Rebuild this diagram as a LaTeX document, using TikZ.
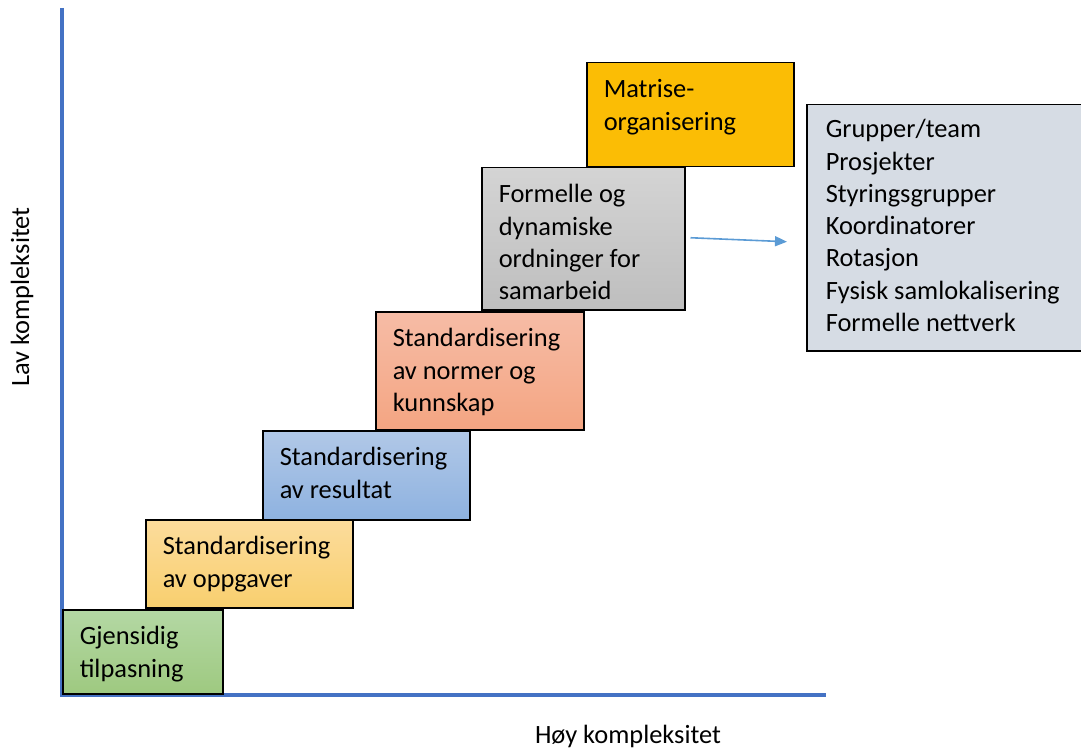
\documentclass[tikz,border=0pt]{standalone}
\usepackage{fontspec}
\setmainfont{Carlito}
\usepackage{tikz}
\usetikzlibrary{arrows.meta,positioning}
\definecolor{axis}{RGB}{68,114,196}
\definecolor{pil}{RGB}{91,155,213}
\definecolor{listefarge}{RGB}{214,220,228}
\definecolor{gull}{RGB}{251,189,5}

\begin{document}
\begin{tikzpicture}[x=1pt, y=-1pt, font=\fontsize{26.4}{32.3}\selectfont,
  tier/.style={rectangle, draw=black, line width=1.5pt, anchor=north west, align=flush left,
               inner xsep=17pt, inner ysep=0pt, text height=35pt},
  axisline/.style={draw=axis, line width=4pt},
  >={Triangle[length=12pt, width=10pt]}]
  \useasboundingbox (0,0) rectangle (1081,751);
  % axes
  \coordinate (top) at (62,8);
  \coordinate (origo) at (62,697);
  \coordinate (end) at (826,695);
  \draw[axisline] (top) -- (origo);
  \draw[axisline] (60,695) -- (end);
  \node[rotate=90] (lav) at (22,297) {Lav kompleksitet};
  \node (hoy) at (628,736) {Høy kompleksitet};
  % steps
  \node[tier, top color={rgb,255:red,180;green,216;blue,164}, bottom color={rgb,255:red,158;green,201;blue,128},
        text width=126pt, text depth=49pt] (gjen) at (62,609) {Gjensidig\\tilpasning};
  \node[tier, top color={rgb,255:red,252;green,220;blue,156}, bottom color={rgb,255:red,248;green,207;blue,110},
        text width=173pt, text depth=53pt] (oppg) at (145,519) {Standardisering\\av oppgaver};
  \node[tier, top color={rgb,255:red,177;green,200;blue,231}, bottom color={rgb,255:red,142;green,178;blue,224},
        text width=173pt, text depth=54pt] (res) at (262,430) {Standardisering\\av resultat};
  \node[tier, top color={rgb,255:red,246;green,188;blue,166}, bottom color={rgb,255:red,244;green,165;blue,130},
        text width=174pt, text depth=83pt] (norm) at (375,311) {Standardisering\\av normer og\\kunnskap};
  \node[tier, top color={rgb,255:red,212;green,212;blue,212}, bottom color={rgb,255:red,190;green,190;blue,190},
        text width=169pt, text depth=107pt] (form) at (481,167) {Formelle og\\dynamiske\\ordninger for\\samarbeid};
  \node[tier, fill=gull, text width=173pt, text depth=69pt] (matr) at (586,62) {Matrise-\\organisering};
  % list
  \node[tier, fill=listefarge, inner xsep=19pt, text height=33pt, text depth=213pt,
        text width=256pt] (liste) at (806,104)
        {Grupper/team\\Prosjekter\\Styringsgrupper\\Koordinatorer\\Rotasjon\\Fysisk samlokalisering\\Formelle nettverk};
  \draw[->, pil, line width=1.6pt] ([xshift=5pt, yshift=1pt]form.east) -- ([xshift=-19pt, yshift=-14pt]liste.west);
\end{tikzpicture}
\end{document}
